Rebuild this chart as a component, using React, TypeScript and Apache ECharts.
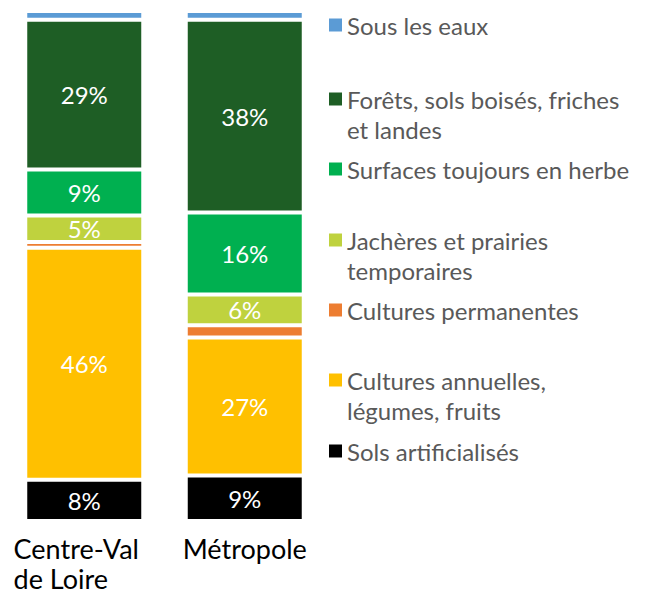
import React, { useEffect, useRef } from "react";
import * as echarts from "echarts";

const categories = ["Centre-Val\nde Loire", "Métropole"];

// stacking order: bottom to top
const seriesNames = [
  "Sols artificialisés",
  "Cultures annuelles, légumes, fruits",
  "Cultures permanentes",
  "Jachères et prairies temporaires",
  "Surfaces toujours en herbe",
  "Forêts, sols boisés, friches et landes",
  "Sous les eaux",
];
const solsArtificialises = [8.1, 8.9];
const culturesAnnuelles = [45.5, 27.1];
const culturesPermanentes = [1.1, 2.4];
const jacheres = [5.2, 6.0];
const surfacesHerbe = [9.0, 16.1];
const forets = [29.4, 37.8];
const sousLesEaux = [1.7, 1.7];
const seriesValues = [
  solsArtificialises,
  culturesAnnuelles,
  culturesPermanentes,
  jacheres,
  surfacesHerbe,
  forets,
  sousLesEaux,
];
const seriesColors = ["#000000", "#FFC000", "#ED7D31", "#BFD23E", "#00B050", "#1E5E25", "#5B9BD5"];
const showLabel = [true, true, false, true, true, true, false];

const legendOrder = [
  "Sous les eaux",
  "Forêts, sols boisés, friches et landes",
  "Surfaces toujours en herbe",
  "Jachères et prairies temporaires",
  "Cultures permanentes",
  "Cultures annuelles, légumes, fruits",
  "Sols artificialisés",
];
const legendLines: Record<string, string[]> = {
  "Sous les eaux": ["Sous les eaux"],
  "Forêts, sols boisés, friches et landes": ["Forêts, sols boisés, friches", "et landes"],
  "Surfaces toujours en herbe": ["Surfaces toujours en herbe"],
  "Jachères et prairies temporaires": ["Jachères et prairies", "temporaires"],
  "Cultures permanentes": ["Cultures permanentes"],
  "Cultures annuelles, légumes, fruits": ["Cultures annuelles,", "légumes, fruits"],
  "Sols artificialisés": ["Sols artificialisés"],
};
// vertical centre of each legend marker (px)
const legendMarkerY = [25, 99, 169, 240, 310, 380, 451];

const FONT = "Lato";
const LEGEND_LINE = 30;

export default function App() {
  const ref = useRef<HTMLDivElement>(null);
  useEffect(() => {
    if (!ref.current) return;
    const chart = echarts.init(ref.current, null, { renderer: "svg" });
    const legends = legendOrder.map((name, i) => {
      const lines = legendLines[name];
      const multi = lines.length > 1;
      return {
        orient: "vertical",
        left: 329,
        top: legendMarkerY[i] - (multi ? LEGEND_LINE * 1.5 : LEGEND_LINE / 2),
        padding: 0,
        itemWidth: 13,
        itemHeight: 13,
        icon: "rect",
        selectedMode: false,
        itemStyle: { borderWidth: 0 },
        formatter: () => (multi ? "\n" + lines.join("\n") : lines[0]),
        textStyle: {
          fontFamily: FONT,
          fontSize: 24,
          color: "#595959",
          lineHeight: LEGEND_LINE,
        },
        data: [name],
      };
    });
    const option = {
      animation: false,
      backgroundColor: "#ffffff",
      grid: { left: 4, width: 321, top: 11, height: 516, containLabel: false },
      xAxis: {
        type: "category",
        data: categories,
        axisLine: { show: false },
        axisTick: { show: false },
        axisLabel: {
          interval: 0,
          margin: 12,
          color: "#000000",
          fontFamily: FONT,
          fontSize: 27,
          lineHeight: 30,
          formatter: (v: string) => {
            if (!v.includes("\n")) return v;
            const parts = v.split("\n");
            return parts.map((l, k) => `{l|${l}}` + (k === 0 ? "{p|}" : "")).join("\n");
          },
          rich: {
            l: { align: "left", fontFamily: FONT, fontSize: 27, lineHeight: 30, color: "#000000" },
            p: { width: 16, align: "left", fontSize: 27, lineHeight: 30 },
          },
        },
      },
      yAxis: { type: "value", min: 0, max: 100, show: false },
      legend: legends,
      series: seriesNames.map((name, i) => ({
        name,
        type: "bar",
        stack: "total",
        barWidth: 118,
        data: seriesValues[i],
        itemStyle: { color: seriesColors[i], borderColor: "#ffffff", borderWidth: 2 },
        label: {
          show: showLabel[i],
          position: "inside",
          color: "#ffffff",
          fontFamily: FONT,
          fontSize: 24,
          formatter: (p: any) => Math.round(p.value) + "%",
        },
      })),
    };
    chart.setOption(option as any);
    return () => chart.dispose();
  }, []);
  return (
    <div
      ref={ref}
      style={{ position: "fixed", left: 0, top: 0, width: 645, height: 593 }}
    />
  );
}
